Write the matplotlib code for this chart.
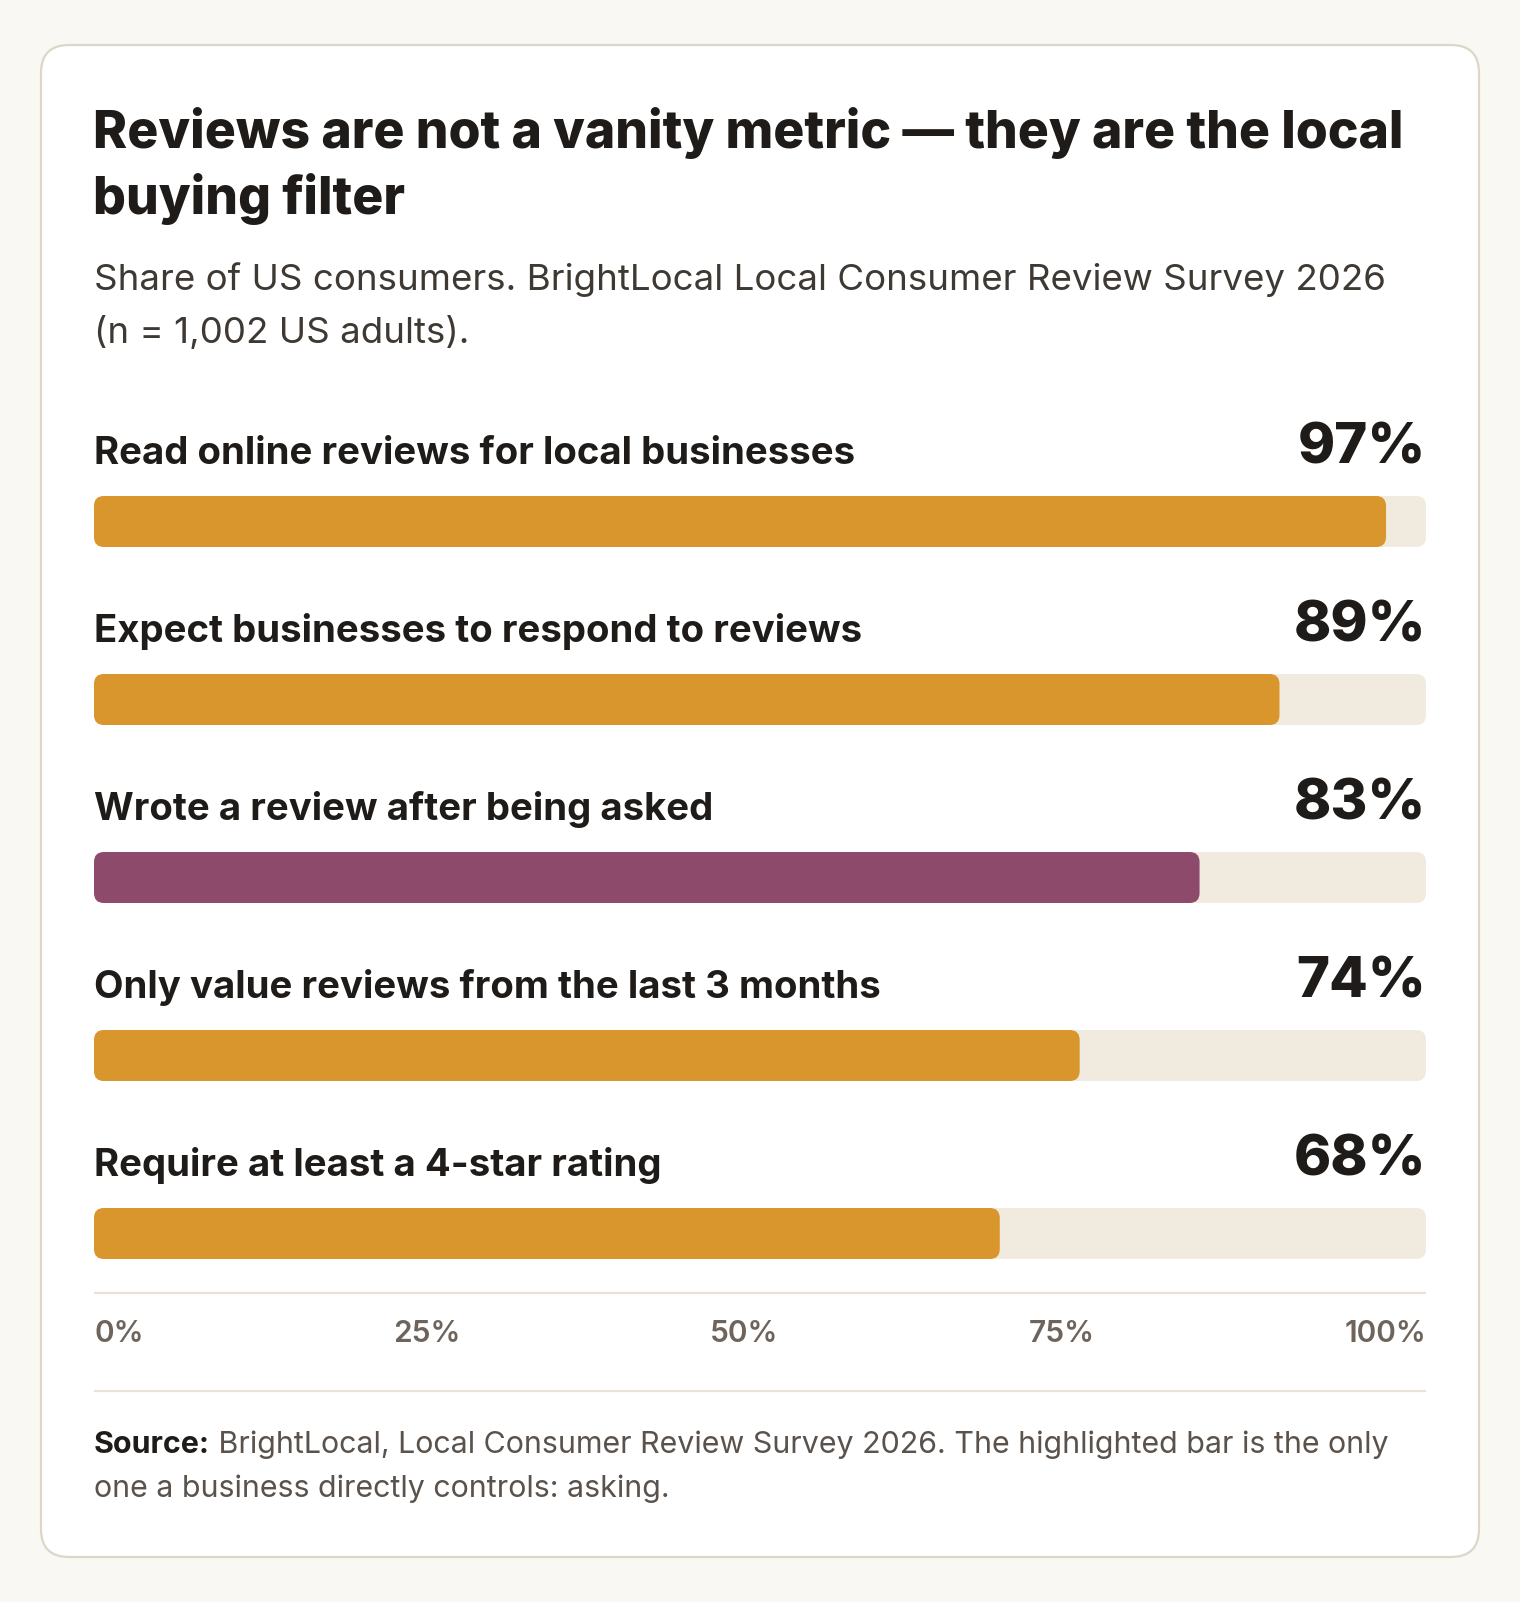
import matplotlib
matplotlib.use("Agg")
import matplotlib.pyplot as plt
from matplotlib.patches import FancyBboxPatch

# ---------------- data ----------------
categories = [
    "Read online reviews for local businesses",
    "Expect businesses to respond to reviews",
    "Wrote a review after being asked",
    "Only value reviews from the last 3 months",
    "Require at least a 4-star rating",
]
values = [97, 89, 83, 74, 68]
highlight = [False, False, True, False, False]
tick_values = [0, 25, 50, 75, 100]
tick_labels = ["0%", "25%", "50%", "75%", "100%"]

title_lines = ["Reviews are not a vanity metric \u2014 they are the local",
               "buying filter"]
subtitle_lines = ["Share of US consumers. BrightLocal Local Consumer Review Survey 2026",
                  "(n = 1,002 US adults)."]
source_bold = "Source:"
source_lines = [" BrightLocal, Local Consumer Review Survey 2026. The highlighted bar is the only",
                "one a business directly controls: asking."]

# ---------------- style ----------------
W, H = 1520, 1602
BG = "#FAF8F3"
CARD = "#FFFFFF"
BORDER = "#DED6C6"
TRACK = "#F1EADF"
ORANGE = "#D9962C"
PURPLE = "#8E4A6B"
DARK = "#1E1B18"
SUB = "#3F3934"
MUTED = "#6E645B"
SRC = "#5A524B"
RULE = "#E8E2D8"
FONT = ["Inter", "DejaVu Sans"]

fig = plt.figure(figsize=(W / 100, H / 100), dpi=100, facecolor=BG)
ax = fig.add_axes([0, 0, 1, 1])
ax.set_xlim(0, W)
ax.set_ylim(H, 0)
ax.axis("off")

# card
card = FancyBboxPatch((41, 45), 1438, 1512, boxstyle="round,pad=0,rounding_size=28",
                      facecolor=CARD, edgecolor=BORDER, linewidth=1.6, zorder=0)
ax.add_patch(card)

LEFT, RIGHT = 94, 1426

fig.canvas.draw()
renderer = fig.canvas.get_renderer()

def fit(t, target):
    """scale font so the text's width matches the target width in px"""
    w = t.get_window_extent(renderer).width
    t.set_fontsize(t.get_fontsize() * target / w)

# title
for i, line in enumerate(title_lines):
    t = ax.text(LEFT - 1, 148 + 66 * i, line, fontsize=37.0, fontweight=800,
                family=FONT, color=DARK, va="baseline", ha="left")
    if i == 0:
        fit(t, 1310)
        tsize = t.get_fontsize()
    else:
        t.set_fontsize(tsize)
# subtitle
for i, line in enumerate(subtitle_lines):
    t = ax.text(LEFT, 290 + 53 * i, line, fontsize=26.0, family=FONT, color=SUB,
                va="baseline", ha="left")
    if i == 0:
        fit(t, 1289)
        ssize = t.get_fontsize()
    else:
        t.set_fontsize(ssize)

# bars axes (x in percent, y in pixel rows of the figure)
bx = fig.add_axes([LEFT / W, 0, (RIGHT - LEFT) / W, 1])
bx.set_xlim(0, 100)
bx.set_ylim(H, 0)
bx.axis("off")
bx.patch.set_alpha(0)

aspect = (RIGHT - LEFT) / 100.0
r = 10 / aspect
BAR_TOP0, PITCH, BAR_H = 496, 178, 51
for i, (cat, v, hl) in enumerate(zip(categories, values, highlight)):
    top = BAR_TOP0 + PITCH * i
    bx.add_patch(FancyBboxPatch((0, top), 100, BAR_H,
                                boxstyle=f"round,pad=0,rounding_size={r}",
                                mutation_aspect=aspect, facecolor=TRACK,
                                edgecolor="none", zorder=1))
    bx.add_patch(FancyBboxPatch((0, top), v, BAR_H,
                                boxstyle=f"round,pad=0,rounding_size={r}",
                                mutation_aspect=aspect,
                                facecolor=PURPLE if hl else ORANGE,
                                edgecolor="none", zorder=2))
    base = top - 32
    bx.text(0, base, cat, fontsize=27.6, fontweight="bold", family=FONT,
            color=DARK, va="baseline", ha="left")
    bx.text(100, base, f"{v}%", fontsize=40.5, fontweight=800, family=FONT,
            color=DARK, va="baseline", ha="right")

# rules
ax.plot([LEFT, RIGHT], [1293, 1293], color=RULE, lw=1.6, solid_capstyle="butt")
ax.plot([LEFT, RIGHT], [1391, 1391], color=RULE, lw=1.6, solid_capstyle="butt")

# tick labels, laid out with equal gaps (space-between)
tks = [ax.text(0, 1342, lab, fontsize=21.5, fontweight="semibold", family=FONT,
               color=MUTED, va="baseline", ha="left") for lab in tick_labels]
widths = [t.get_window_extent(renderer).width for t in tks]
gap = ((RIGHT - LEFT) - sum(widths)) / (len(tks) - 1)
x = LEFT
for t, w in zip(tks, widths):
    t.set_x(x)
    x += w + gap

# source
SS = 21.9
sb = ax.text(LEFT, 1453, source_bold, fontsize=SS, fontweight="bold",
             family=FONT, color=DARK, va="baseline", ha="left")
bw = sb.get_window_extent(renderer).width
ax.text(LEFT + bw, 1453, source_lines[0], fontsize=SS, family=FONT, color=SRC,
        va="baseline", ha="left")
ax.text(LEFT, 1497, source_lines[1], fontsize=SS, family=FONT, color=SRC,
        va="baseline", ha="left")

fig.savefig("out.png", dpi=100, facecolor=BG)
